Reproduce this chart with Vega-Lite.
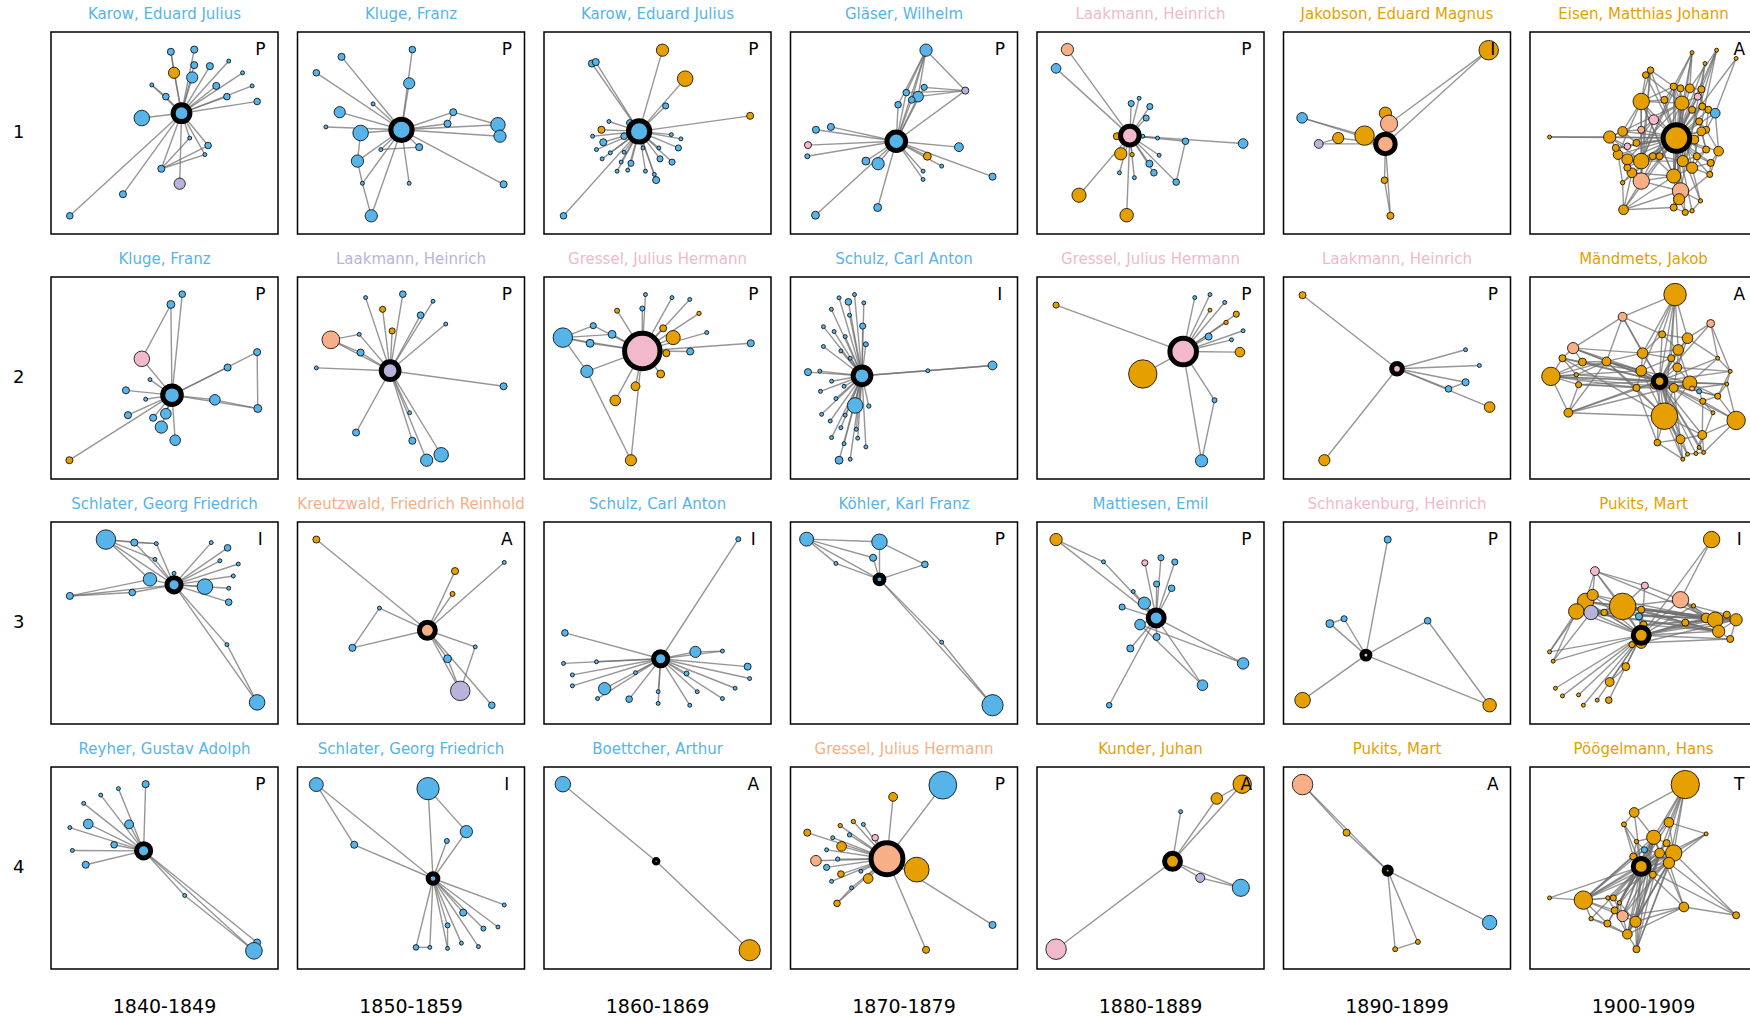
{
"$schema": "https://vega.github.io/schema/vega-lite/v6.json",
"padding": {"left": 13, "top": 6, "right": 0, "bottom": 0},
"background": "white",
"bounds": "flush",
"datasets": {"all": [
{"r":1,"d":"1840-1849","nm":"Karow, Eduard Julius","g":"b","lt":"P","to":["L"]},
{"r":1,"d":"1850-1859","nm":"Kluge, Franz","g":"b","lt":"P","to":["L"]},
{"r":1,"d":"1860-1869","nm":"Karow, Eduard Julius","g":"b","lt":"P","to":["L"]},
{"r":1,"d":"1870-1879","nm":"Gläser, Wilhelm","g":"b","lt":"P","to":["L"]},
{"r":1,"d":"1880-1889","nm":"Laakmann, Heinrich","g":"p","lt":"P","to":["L"]},
{"r":1,"d":"1890-1899","nm":"Jakobson, Eduard Magnus","g":"o","lt":"I","to":["L"]},
{"r":1,"d":"1900-1909","nm":"Eisen, Matthias Johann","g":"o","lt":"A","to":["L"]},
{"r":2,"d":"1840-1849","nm":"Kluge, Franz","g":"b","lt":"P","to":["L"]},
{"r":2,"d":"1850-1859","nm":"Laakmann, Heinrich","g":"l","lt":"P","to":["L"]},
{"r":2,"d":"1860-1869","nm":"Gressel, Julius Hermann","g":"p","lt":"P","to":["L"]},
{"r":2,"d":"1870-1879","nm":"Schulz, Carl Anton","g":"b","lt":"I","to":["L"]},
{"r":2,"d":"1880-1889","nm":"Gressel, Julius Hermann","g":"p","lt":"P","to":["L"]},
{"r":2,"d":"1890-1899","nm":"Laakmann, Heinrich","g":"p","lt":"P","to":["L"]},
{"r":2,"d":"1900-1909","nm":"Mändmets, Jakob","g":"o","lt":"A","to":["L"]},
{"r":3,"d":"1840-1849","nm":"Schlater, Georg Friedrich","g":"b","lt":"I","to":["L"]},
{"r":3,"d":"1850-1859","nm":"Kreutzwald, Friedrich Reinhold","g":"s","lt":"A","to":["L"]},
{"r":3,"d":"1860-1869","nm":"Schulz, Carl Anton","g":"b","lt":"I","to":["L"]},
{"r":3,"d":"1870-1879","nm":"Köhler, Karl Franz","g":"b","lt":"P","to":["L"]},
{"r":3,"d":"1880-1889","nm":"Mattiesen, Emil","g":"b","lt":"P","to":["L"]},
{"r":3,"d":"1890-1899","nm":"Schnakenburg, Heinrich","g":"p","lt":"P","to":["L"]},
{"r":3,"d":"1900-1909","nm":"Pukits, Mart","g":"o","lt":"I","to":["L"]},
{"r":4,"d":"1840-1849","nm":"Reyher, Gustav Adolph","g":"b","lt":"P","to":["L"]},
{"r":4,"d":"1850-1859","nm":"Schlater, Georg Friedrich","g":"b","lt":"I","to":["L"]},
{"r":4,"d":"1860-1869","nm":"Boettcher, Arthur","g":"b","lt":"A","to":["L"]},
{"r":4,"d":"1870-1879","nm":"Gressel, Julius Hermann","g":"s","lt":"P","to":["L"]},
{"r":4,"d":"1880-1889","nm":"Kunder, Juhan","g":"o","lt":"A","to":["L"]},
{"r":4,"d":"1890-1899","nm":"Pukits, Mart","g":"o","lt":"A","to":["L"]},
{"r":4,"d":"1900-1909","nm":"Pöögelmann, Hans","g":"o","lt":"T","to":["L"]},

{"r":1,"d":"1840-1849","k":"11.0","x":57.5,"y":40.2,"w":90,"g":"b","e":1,"to":["11.0"]},
{"r":1,"d":"1840-1849","k":"11.1","x":52.8,"y":9.8,"w":16,"g":"b","to":["11.1","11.0","11.4"]},
{"r":1,"d":"1840-1849","k":"11.2","x":63.1,"y":8.7,"w":16,"g":"b","to":["11.2","11.0"]},
{"r":1,"d":"1840-1849","k":"11.3","x":63.1,"y":16.4,"w":16,"g":"b","to":["11.3","11.0"]},
{"r":1,"d":"1840-1849","k":"11.4","x":54.2,"y":20.2,"w":40,"g":"o","to":["11.4","11.0"]},
{"r":1,"d":"1840-1849","k":"11.5","x":62.2,"y":22.5,"w":40,"g":"b","to":["11.5","11.0"]},
{"r":1,"d":"1840-1849","k":"11.6","x":70,"y":16.9,"w":16,"g":"b","to":["11.6","11.0"]},
{"r":1,"d":"1840-1849","k":"11.7","x":78.3,"y":14.4,"w":5,"g":"b","to":["11.7","11.0"]},
{"r":1,"d":"1840-1849","k":"11.8","x":84.4,"y":20.2,"w":5,"g":"b","to":["11.8","11.0"]},
{"r":1,"d":"1840-1849","k":"11.9","x":72.8,"y":26.7,"w":16,"g":"b","to":["11.9","11.0"]},
{"r":1,"d":"1840-1849","k":"11.10","x":88.6,"y":26.7,"w":5,"g":"b","to":["11.10","11.0"]},
{"r":1,"d":"1840-1849","k":"11.11","x":77.5,"y":32,"w":14,"g":"b","to":["11.11","11.0"]},
{"r":1,"d":"1840-1849","k":"11.12","x":90.8,"y":34.4,"w":14,"g":"b","to":["11.12","11.0"]},
{"r":1,"d":"1840-1849","k":"11.13","x":44.4,"y":26.2,"w":5,"g":"b","to":["11.13","11.0","11.14"]},
{"r":1,"d":"1840-1849","k":"11.14","x":50.6,"y":32,"w":14,"g":"b","to":["11.14","11.0"]},
{"r":1,"d":"1840-1849","k":"11.15","x":40,"y":42.6,"w":77,"g":"b","to":["11.15","11.0"]},
{"r":1,"d":"1840-1849","k":"11.16","x":61.1,"y":52.5,"w":5,"g":"b","to":["11.16","11.0"]},
{"r":1,"d":"1840-1849","k":"11.17","x":69.2,"y":56.2,"w":14,"g":"b","to":["11.17","11.0"]},
{"r":1,"d":"1840-1849","k":"11.18","x":67.8,"y":60.7,"w":5,"g":"b","to":["11.18","11.0"]},
{"r":1,"d":"1840-1849","k":"11.19","x":48.6,"y":67.7,"w":16,"g":"b","to":["11.19","11.0","11.16","11.17","11.18"]},
{"r":1,"d":"1840-1849","k":"11.20","x":56.7,"y":75.1,"w":40,"g":"l","to":["11.20","11.0"]},
{"r":1,"d":"1840-1849","k":"11.21","x":31.7,"y":80.3,"w":16,"g":"b","to":["11.21","11.0"]},
{"r":1,"d":"1840-1849","k":"11.22","x":8.3,"y":91,"w":14,"g":"b","to":["11.22","11.0"]},

{"r":1,"d":"1850-1859","k":"12.0","x":45.8,"y":48.4,"w":144,"g":"b","e":1,"to":["12.0"]},
{"r":1,"d":"1850-1859","k":"12.1","x":19.4,"y":12.3,"w":16,"g":"b","to":["12.1","12.0"]},
{"r":1,"d":"1850-1859","k":"12.2","x":50.6,"y":8.7,"w":14,"g":"b","to":["12.2","12.0"]},
{"r":1,"d":"1850-1859","k":"12.3","x":8.3,"y":20.2,"w":14,"g":"b","to":["12.3","12.0"]},
{"r":1,"d":"1850-1859","k":"12.4","x":49.2,"y":25.4,"w":40,"g":"b","to":["12.4","12.0"]},
{"r":1,"d":"1850-1859","k":"12.5","x":33.3,"y":35.6,"w":5,"g":"b","to":["12.5","12.0"]},
{"r":1,"d":"1850-1859","k":"12.6","x":18.6,"y":39.7,"w":40,"g":"b","to":["12.6","12.0"]},
{"r":1,"d":"1850-1859","k":"12.7","x":12.5,"y":47,"w":5,"g":"b","to":["12.7","12.0"]},
{"r":1,"d":"1850-1859","k":"12.8","x":27.8,"y":50,"w":77,"g":"b","to":["12.8","12.0"]},
{"r":1,"d":"1850-1859","k":"12.9","x":68.6,"y":39.7,"w":16,"g":"b","to":["12.9","12.0"]},
{"r":1,"d":"1850-1859","k":"12.10","x":66.1,"y":45.4,"w":16,"g":"b","to":["12.10","12.0","12.9"]},
{"r":1,"d":"1850-1859","k":"12.11","x":88.3,"y":45.9,"w":67,"g":"b","to":["12.11","12.0","12.9"]},
{"r":1,"d":"1850-1859","k":"12.12","x":89.2,"y":51.6,"w":48,"g":"b","to":["12.12","12.0"]},
{"r":1,"d":"1850-1859","k":"12.13","x":53.6,"y":57,"w":16,"g":"b","to":["12.13","12.0"]},
{"r":1,"d":"1850-1859","k":"12.14","x":36.7,"y":58.2,"w":5,"g":"b","to":["12.14","12.0","12.13"]},
{"r":1,"d":"1850-1859","k":"12.15","x":26.4,"y":63.9,"w":48,"g":"b","to":["12.15","12.0","12.8"]},
{"r":1,"d":"1850-1859","k":"12.16","x":28.6,"y":74.9,"w":5,"g":"b","to":["12.16","12.0","12.15"]},
{"r":1,"d":"1850-1859","k":"12.17","x":49.2,"y":74.9,"w":5,"g":"b","to":["12.17","12.0"]},
{"r":1,"d":"1850-1859","k":"12.18","x":90.8,"y":75.4,"w":16,"g":"b","to":["12.18","12.0"]},
{"r":1,"d":"1850-1859","k":"12.19","x":32.5,"y":91,"w":48,"g":"b","to":["12.19","12.0","12.16"]},

{"r":1,"d":"1860-1869","k":"13.0","x":41.9,"y":49.2,"w":144,"g":"b","e":1,"to":["13.0"]},
{"r":1,"d":"1860-1869","k":"13.1","x":52.2,"y":9,"w":48,"g":"o","to":["13.1","13.0"]},
{"r":1,"d":"1860-1869","k":"13.2","x":21.1,"y":15.6,"w":16,"g":"b","to":["13.2","13.0"]},
{"r":1,"d":"1860-1869","k":"13.3","x":22.8,"y":14.9,"w":16,"g":"b","to":["13.3","13.0"]},
{"r":1,"d":"1860-1869","k":"13.4","x":62.2,"y":23.1,"w":77,"g":"o","to":["13.4","13.0"]},
{"r":1,"d":"1860-1869","k":"13.5","x":90.8,"y":41.5,"w":16,"g":"o","to":["13.5","13.0"]},
{"r":1,"d":"1860-1869","k":"13.6","x":53.6,"y":36.6,"w":12,"g":"b","to":["13.6","13.0"]},
{"r":1,"d":"1860-1869","k":"13.7","x":28.6,"y":44.3,"w":5,"g":"b","to":["13.7","13.0"]},
{"r":1,"d":"1860-1869","k":"13.8","x":25.3,"y":48.4,"w":16,"g":"o","to":["13.8","13.0"]},
{"r":1,"d":"1860-1869","k":"13.9","x":37.8,"y":45,"w":14,"g":"b","to":["13.9","13.0"]},
{"r":1,"d":"1860-1869","k":"13.10","x":21.4,"y":51.6,"w":5,"g":"b","to":["13.10","13.0"]},
{"r":1,"d":"1860-1869","k":"13.11","x":26.1,"y":54.6,"w":16,"g":"b","to":["13.11","13.0"]},
{"r":1,"d":"1860-1869","k":"13.12","x":35.3,"y":51.6,"w":14,"g":"b","to":["13.12","13.0"]},
{"r":1,"d":"1860-1869","k":"13.13","x":56.1,"y":50.8,"w":5,"g":"b","to":["13.13","13.0"]},
{"r":1,"d":"1860-1869","k":"13.14","x":60.3,"y":52.9,"w":5,"g":"b","to":["13.14","13.0"]},
{"r":1,"d":"1860-1869","k":"13.15","x":23.1,"y":58.2,"w":5,"g":"b","to":["13.15","13.0"]},
{"r":1,"d":"1860-1869","k":"13.16","x":29.2,"y":59.8,"w":5,"g":"b","to":["13.16","13.0"]},
{"r":1,"d":"1860-1869","k":"13.17","x":35.3,"y":59.5,"w":5,"g":"b","to":["13.17","13.0"]},
{"r":1,"d":"1860-1869","k":"13.18","x":43.6,"y":57.4,"w":5,"g":"b","to":["13.18","13.0"]},
{"r":1,"d":"1860-1869","k":"13.19","x":50.6,"y":57.4,"w":5,"g":"b","to":["13.19","13.0"]},
{"r":1,"d":"1860-1869","k":"13.20","x":59.2,"y":57.4,"w":12,"g":"b","to":["13.20","13.0"]},
{"r":1,"d":"1860-1869","k":"13.21","x":25.6,"y":62.8,"w":5,"g":"b","to":["13.21","13.0"]},
{"r":1,"d":"1860-1869","k":"13.22","x":34,"y":64.4,"w":5,"g":"b","to":["13.22","13.0"]},
{"r":1,"d":"1860-1869","k":"13.23","x":51.1,"y":62.8,"w":12,"g":"b","to":["13.23","13.0"]},
{"r":1,"d":"1860-1869","k":"13.24","x":56.4,"y":64.4,"w":12,"g":"b","to":["13.24","13.0"]},
{"r":1,"d":"1860-1869","k":"13.25","x":38.3,"y":65,"w":12,"g":"b","to":["13.25","13.0"]},
{"r":1,"d":"1860-1869","k":"13.26","x":32.2,"y":68.9,"w":5,"g":"b","to":["13.26","13.0"]},
{"r":1,"d":"1860-1869","k":"13.27","x":36.9,"y":68.4,"w":5,"g":"b","to":["13.27","13.0"]},
{"r":1,"d":"1860-1869","k":"13.28","x":44.7,"y":68.9,"w":5,"g":"b","to":["13.28","13.0"]},
{"r":1,"d":"1860-1869","k":"13.29","x":48.6,"y":70.5,"w":5,"g":"b","to":["13.29","13.0"]},
{"r":1,"d":"1860-1869","k":"13.30","x":49.4,"y":73.3,"w":16,"g":"b","to":["13.30","13.0"]},
{"r":1,"d":"1860-1869","k":"13.31","x":8.6,"y":91,"w":14,"g":"b","to":["13.31","13.0"]},

{"r":1,"d":"1870-1879","k":"14.0","x":46.6,"y":54.1,"w":110,"g":"b","e":1,"to":["14.0"]},
{"r":1,"d":"1870-1879","k":"14.1","x":59.7,"y":9,"w":48,"g":"b","to":["14.1","14.0"]},
{"r":1,"d":"1870-1879","k":"14.2","x":77,"y":29,"w":16,"g":"l","to":["14.2","14.0","14.1"]},
{"r":1,"d":"1870-1879","k":"14.3","x":51,"y":30,"w":14,"g":"b","to":["14.3","14.0","14.1","14.2"]},
{"r":1,"d":"1870-1879","k":"14.4","x":56.2,"y":32,"w":36,"g":"b","to":["14.4","14.0","14.1","14.2"]},
{"r":1,"d":"1870-1879","k":"14.5","x":58.9,"y":27.4,"w":12,"g":"b","to":["14.5","14.0","14.2"]},
{"r":1,"d":"1870-1879","k":"14.6","x":53.4,"y":33.6,"w":14,"g":"b","to":["14.6","14.0","14.1"]},
{"r":1,"d":"1870-1879","k":"14.7","x":47.4,"y":36,"w":14,"g":"b","to":["14.7","14.0","14.1"]},
{"r":1,"d":"1870-1879","k":"14.8","x":11.2,"y":48.4,"w":16,"g":"b","to":["14.8","14.0"]},
{"r":1,"d":"1870-1879","k":"14.9","x":17.8,"y":47,"w":16,"g":"b","to":["14.9","14.0"]},
{"r":1,"d":"1870-1879","k":"14.10","x":7.7,"y":56,"w":16,"g":"p","to":["14.10","14.0"]},
{"r":1,"d":"1870-1879","k":"14.11","x":7.4,"y":61.5,"w":8,"g":"b","to":["14.11","14.0"]},
{"r":1,"d":"1870-1879","k":"14.12","x":74.2,"y":57,"w":25,"g":"b","to":["14.12","14.0"]},
{"r":1,"d":"1870-1879","k":"14.13","x":60.3,"y":61.5,"w":20,"g":"o","to":["14.13","14.0"]},
{"r":1,"d":"1870-1879","k":"14.14","x":33.2,"y":63.9,"w":20,"g":"b","to":["14.14","14.0"]},
{"r":1,"d":"1870-1879","k":"14.15","x":38.6,"y":65.2,"w":48,"g":"b","to":["14.15","14.0"]},
{"r":1,"d":"1870-1879","k":"14.16","x":58.4,"y":68.9,"w":5,"g":"b","to":["14.16","14.0"]},
{"r":1,"d":"1870-1879","k":"14.17","x":66.6,"y":66.4,"w":5,"g":"b","to":["14.17","14.0"]},
{"r":1,"d":"1870-1879","k":"14.18","x":58.4,"y":73,"w":5,"g":"b","to":["14.18","14.0"]},
{"r":1,"d":"1870-1879","k":"14.19","x":89,"y":71.6,"w":16,"g":"b","to":["14.19","14.0"]},
{"r":1,"d":"1870-1879","k":"14.20","x":38.4,"y":86.9,"w":20,"g":"b","to":["14.20","14.0"]},
{"r":1,"d":"1870-1879","k":"14.21","x":11,"y":90.7,"w":20,"g":"b","to":["14.21","14.0"]},

{"r":1,"d":"1880-1889","k":"15.0","x":40.9,"y":51.3,"w":110,"g":"p","e":1,"to":["15.0"]},
{"r":1,"d":"1880-1889","k":"15.1","x":13.4,"y":8.7,"w":48,"g":"s","to":["15.1","15.0"]},
{"r":1,"d":"1880-1889","k":"15.2","x":8.4,"y":18,"w":30,"g":"b","to":["15.2","15.0"]},
{"r":1,"d":"1880-1889","k":"15.3","x":41.5,"y":35.4,"w":12,"g":"b","to":["15.3","15.0"]},
{"r":1,"d":"1880-1889","k":"15.4","x":45,"y":32.8,"w":5,"g":"b","to":["15.4","15.0"]},
{"r":1,"d":"1880-1889","k":"15.5","x":49.7,"y":36.9,"w":12,"g":"b","to":["15.5","15.0"]},
{"r":1,"d":"1880-1889","k":"15.6","x":48.1,"y":42.6,"w":12,"g":"b","to":["15.6","15.0"]},
{"r":1,"d":"1880-1889","k":"15.7","x":46.6,"y":51.6,"w":5,"g":"b","to":["15.7","15.0"]},
{"r":1,"d":"1880-1889","k":"15.8","x":35.2,"y":51.6,"w":16,"g":"o","to":["15.8","15.0"]},
{"r":1,"d":"1880-1889","k":"15.9","x":53.1,"y":52.5,"w":5,"g":"b","to":["15.9","15.0"]},
{"r":1,"d":"1880-1889","k":"15.10","x":65.4,"y":54.1,"w":14,"g":"b","to":["15.10","15.0"]},
{"r":1,"d":"1880-1889","k":"15.11","x":90.8,"y":55.2,"w":30,"g":"b","to":["15.11","15.0"]},
{"r":1,"d":"1880-1889","k":"15.12","x":36.9,"y":60.3,"w":48,"g":"o","to":["15.12","15.0"]},
{"r":1,"d":"1880-1889","k":"15.13","x":41.9,"y":60.7,"w":6,"g":"o","to":["15.13","15.0"]},
{"r":1,"d":"1880-1889","k":"15.14","x":53.8,"y":61,"w":5,"g":"b","to":["15.14","15.0"]},
{"r":1,"d":"1880-1889","k":"15.15","x":49.5,"y":65.2,"w":16,"g":"b","to":["15.15","15.0"]},
{"r":1,"d":"1880-1889","k":"15.16","x":51.5,"y":69.7,"w":14,"g":"b","to":["15.16","15.0"]},
{"r":1,"d":"1880-1889","k":"15.17","x":36.3,"y":69.7,"w":5,"g":"b","to":["15.17","15.0"]},
{"r":1,"d":"1880-1889","k":"15.18","x":42.9,"y":72.1,"w":5,"g":"b","to":["15.18","15.0"]},
{"r":1,"d":"1880-1889","k":"15.19","x":61.3,"y":74.3,"w":14,"g":"b","to":["15.19","15.0","15.10"]},
{"r":1,"d":"1880-1889","k":"15.20","x":18.5,"y":80.8,"w":64,"g":"o","to":["15.20","15.0"]},
{"r":1,"d":"1880-1889","k":"15.21","x":39.5,"y":90.7,"w":58,"g":"o","to":["15.21","15.0"]},

{"r":1,"d":"1890-1899","k":"16.0","x":44.9,"y":55.4,"w":121,"g":"s","e":1,"to":["16.0"]},
{"r":1,"d":"1890-1899","k":"16.1","x":90.4,"y":9,"w":121,"g":"o","to":["16.1","16.0","16.6"]},
{"r":1,"d":"1890-1899","k":"16.2","x":8.2,"y":42.5,"w":36,"g":"b","to":["16.2","16.0","16.5"]},
{"r":1,"d":"1890-1899","k":"16.3","x":15.5,"y":55.4,"w":25,"g":"l","to":["16.3","16.0","16.4"]},
{"r":1,"d":"1890-1899","k":"16.4","x":24.1,"y":52.5,"w":40,"g":"o","to":["16.4","16.0"]},
{"r":1,"d":"1890-1899","k":"16.5","x":35.7,"y":51.3,"w":121,"g":"o","to":["16.5","16.0"]},
{"r":1,"d":"1890-1899","k":"16.7","x":44.9,"y":40.2,"w":48,"g":"o","to":["16.7","16.0"]},
{"r":1,"d":"1890-1899","k":"16.6","x":46.5,"y":45.4,"w":94,"g":"s","to":["16.6","16.0"]},
{"r":1,"d":"1890-1899","k":"16.8","x":44.5,"y":73.4,"w":14,"g":"o","to":["16.8","16.0"]},
{"r":1,"d":"1890-1899","k":"16.9","x":47.1,"y":91,"w":16,"g":"o","to":["16.9","16.0","16.8"]},

{"r":1,"d":"1900-1909","k":"17.0","x":64.5,"y":52.5,"w":225,"g":"o","e":1,"to":["17.0"]},
{"r":1,"d":"1900-1909","k":"17.1","x":8.6,"y":52,"w":5,"g":"o","to":["17.1","17.0","17.2"]},
{"r":1,"d":"1900-1909","k":"17.2","x":35.1,"y":52,"w":48,"g":"o","to":["17.2","17.0","17.3","17.43","17.47","17.18","17.40"]},
{"r":1,"d":"1900-1909","k":"17.3","x":40.8,"y":49.2,"w":30,"g":"o","to":["17.3","17.0","17.4","17.52"]},
{"r":1,"d":"1900-1909","k":"17.4","x":49,"y":34.4,"w":86,"g":"o","to":["17.4","17.0","17.5","17.6","17.7","17.13","17.18","17.40","17.32","17.33","17.39"]},
{"r":1,"d":"1900-1909","k":"17.5","x":53.1,"y":18.9,"w":14,"g":"o","to":["17.5","17.0","17.6","17.13","17.40","17.39"]},
{"r":1,"d":"1900-1909","k":"17.6","x":51,"y":21.3,"w":14,"g":"o","to":["17.6","17.0","17.18"]},
{"r":1,"d":"1900-1909","k":"17.7","x":54.5,"y":43.4,"w":30,"g":"p","to":["17.7","17.0","17.8","17.18","17.40"]},
{"r":1,"d":"1900-1909","k":"17.8","x":49,"y":48.4,"w":16,"g":"s","to":["17.8","17.0","17.3"]},
{"r":1,"d":"1900-1909","k":"17.9","x":71.4,"y":10.2,"w":5,"g":"o","to":["17.9","17.0","17.13","17.15","17.32","17.40"]},
{"r":1,"d":"1900-1909","k":"17.10","x":82.2,"y":9,"w":5,"g":"o","to":["17.10","17.0","17.15","17.16","17.30","17.31"]},
{"r":1,"d":"1900-1909","k":"17.11","x":90.8,"y":13.1,"w":5,"g":"o","to":["17.11","17.0","17.22"]},
{"r":1,"d":"1900-1909","k":"17.12","x":77.1,"y":15.6,"w":5,"g":"o","to":["17.12","17.0","17.16","17.33"]},
{"r":1,"d":"1900-1909","k":"17.13","x":63.3,"y":27,"w":16,"g":"o","to":["17.13","17.0","17.14","17.18","17.40","17.30","17.32"]},
{"r":1,"d":"1900-1909","k":"17.14","x":66.3,"y":27.9,"w":16,"g":"o","to":["17.14","17.0","17.15","17.18"]},
{"r":1,"d":"1900-1909","k":"17.15","x":70.4,"y":27.9,"w":25,"g":"o","to":["17.15","17.0","17.16","17.17"]},
{"r":1,"d":"1900-1909","k":"17.16","x":75.5,"y":28.4,"w":16,"g":"o","to":["17.16","17.0","17.17","17.20"]},
{"r":1,"d":"1900-1909","k":"17.17","x":73.9,"y":32,"w":16,"g":"p","to":["17.17","17.0","17.18","17.21"]},
{"r":1,"d":"1900-1909","k":"17.18","x":66.9,"y":35.2,"w":64,"g":"o","to":["17.18","17.0","17.19","17.31","17.32"]},
{"r":1,"d":"1900-1909","k":"17.19","x":71.4,"y":38.5,"w":16,"g":"o","to":["17.19","17.0","17.20","17.23"]},
{"r":1,"d":"1900-1909","k":"17.20","x":75.9,"y":36.9,"w":16,"g":"o","to":["17.20","17.0","17.21","17.22"]},
{"r":1,"d":"1900-1909","k":"17.21","x":78.6,"y":38.5,"w":16,"g":"o","to":["17.21","17.0","17.22","17.24"]},
{"r":1,"d":"1900-1909","k":"17.22","x":81.6,"y":40.2,"w":30,"g":"b","to":["17.22","17.0","17.24","17.25"]},
{"r":1,"d":"1900-1909","k":"17.23","x":74.5,"y":44.3,"w":16,"g":"o","to":["17.23","17.0","17.24","17.26"]},
{"r":1,"d":"1900-1909","k":"17.24","x":77.6,"y":48.4,"w":16,"g":"o","to":["17.24","17.0","17.25","17.53"]},
{"r":1,"d":"1900-1909","k":"17.25","x":83.1,"y":59,"w":30,"g":"o","to":["17.25","17.0","17.28","17.29"]},
{"r":1,"d":"1900-1909","k":"17.26","x":77.6,"y":58.2,"w":16,"g":"o","to":["17.26","17.0","17.27","17.30"]},
{"r":1,"d":"1900-1909","k":"17.27","x":73.5,"y":61.5,"w":16,"g":"o","to":["17.27","17.0","17.28","17.31"]},
{"r":1,"d":"1900-1909","k":"17.28","x":79.6,"y":64.8,"w":16,"g":"o","to":["17.28","17.0","17.29","17.30"]},
{"r":1,"d":"1900-1909","k":"17.29","x":79.2,"y":70.5,"w":12,"g":"o","to":["17.29","17.0","17.30","17.34"]},
{"r":1,"d":"1900-1909","k":"17.30","x":71.4,"y":67.2,"w":40,"g":"o","to":["17.30","17.0","17.31","17.32","17.38"]},
{"r":1,"d":"1900-1909","k":"17.31","x":67.3,"y":63.9,"w":40,"g":"o","to":["17.31","17.0","17.32","17.40"]},
{"r":1,"d":"1900-1909","k":"17.32","x":63.3,"y":71.3,"w":64,"g":"o","to":["17.32","17.0","17.33","17.39","17.44"]},
{"r":1,"d":"1900-1909","k":"17.33","x":66.3,"y":78.7,"w":86,"g":"s","to":["17.33","17.0","17.34","17.35","17.39"]},
{"r":1,"d":"1900-1909","k":"17.34","x":65.7,"y":82.8,"w":40,"g":"o","to":["17.34","17.0","17.35","17.36"]},
{"r":1,"d":"1900-1909","k":"17.35","x":63.3,"y":86.9,"w":16,"g":"o","to":["17.35","17.0","17.36","17.46"]},
{"r":1,"d":"1900-1909","k":"17.36","x":68.4,"y":89.3,"w":12,"g":"o","to":["17.36","17.0","17.37"]},
{"r":1,"d":"1900-1909","k":"17.37","x":71.4,"y":88.5,"w":6,"g":"o","to":["17.37","17.0","17.38"]},
{"r":1,"d":"1900-1909","k":"17.38","x":75.1,"y":83.6,"w":6,"g":"o","to":["17.38","17.0","17.33"]},
{"r":1,"d":"1900-1909","k":"17.39","x":49,"y":73.8,"w":86,"g":"s","to":["17.39","17.0","17.40","17.44","17.46","17.18"]},
{"r":1,"d":"1900-1909","k":"17.40","x":49,"y":63.9,"w":77,"g":"o","to":["17.40","17.0","17.41","17.48"]},
{"r":1,"d":"1900-1909","k":"17.41","x":42.9,"y":63.1,"w":40,"g":"o","to":["17.41","17.0","17.42","17.44","17.51","17.18"]},
{"r":1,"d":"1900-1909","k":"17.42","x":38.8,"y":60.7,"w":30,"g":"o","to":["17.42","17.0","17.43","17.45","17.4"]},
{"r":1,"d":"1900-1909","k":"17.43","x":37.8,"y":57.4,"w":16,"g":"o","to":["17.43","17.0","17.47"]},
{"r":1,"d":"1900-1909","k":"17.44","x":44.9,"y":69.7,"w":30,"g":"o","to":["17.44","17.0","17.45","17.51"]},
{"r":1,"d":"1900-1909","k":"17.45","x":40.8,"y":74.6,"w":6,"g":"o","to":["17.45","17.0","17.46"]},
{"r":1,"d":"1900-1909","k":"17.46","x":41.2,"y":88,"w":30,"g":"o","to":["17.46","17.0","17.44","17.32","17.33"]},
{"r":1,"d":"1900-1909","k":"17.47","x":42.9,"y":56.6,"w":14,"g":"p","to":["17.47","17.0","17.52"]},
{"r":1,"d":"1900-1909","k":"17.48","x":54.1,"y":61.5,"w":16,"g":"o","to":["17.48","17.0","17.49","17.32"]},
{"r":1,"d":"1900-1909","k":"17.49","x":57.1,"y":61.5,"w":16,"g":"o","to":["17.49","17.0","17.31"]},
{"r":1,"d":"1900-1909","k":"17.50","x":59.2,"y":33.6,"w":16,"g":"o","to":["17.50","17.0","17.4","17.13"]},
{"r":1,"d":"1900-1909","k":"17.51","x":42.9,"y":67.2,"w":16,"g":"o","to":["17.51","17.0","17.39"]},
{"r":1,"d":"1900-1909","k":"17.52","x":46.9,"y":54.9,"w":16,"g":"o","to":["17.52","17.0","17.7"]},
{"r":1,"d":"1900-1909","k":"17.53","x":75.5,"y":49.2,"w":25,"g":"o","to":["17.53","17.0","17.54","17.26"]},
{"r":1,"d":"1900-1909","k":"17.54","x":72.4,"y":53.3,"w":25,"g":"o","to":["17.54","17.0","17.31","17.27"]},

{"r":2,"d":"1840-1849","k":"21.0","x":53.3,"y":58.5,"w":110,"g":"b","e":1,"to":["21.0"]},
{"r":2,"d":"1840-1849","k":"21.1","x":52.8,"y":13.6,"w":20,"g":"b","to":["21.1","21.0","21.3"]},
{"r":2,"d":"1840-1849","k":"21.2","x":57.8,"y":8.5,"w":14,"g":"b","to":["21.2","21.0"]},
{"r":2,"d":"1840-1849","k":"21.3","x":40,"y":40.5,"w":77,"g":"p","to":["21.3","21.0"]},
{"r":2,"d":"1840-1849","k":"21.4","x":90.8,"y":37.2,"w":16,"g":"b","to":["21.4","21.0","21.6"]},
{"r":2,"d":"1840-1849","k":"21.5","x":77.8,"y":44.8,"w":16,"g":"b","to":["21.5","21.0"]},
{"r":2,"d":"1840-1849","k":"21.6","x":91.1,"y":65.1,"w":20,"g":"b","to":["21.6","21.0"]},
{"r":2,"d":"1840-1849","k":"21.7","x":72.2,"y":60.8,"w":36,"g":"b","to":["21.7","21.0","21.6"]},
{"r":2,"d":"1840-1849","k":"21.8","x":43.6,"y":50.8,"w":5,"g":"b","to":["21.8","21.0"]},
{"r":2,"d":"1840-1849","k":"21.9","x":33,"y":56.1,"w":16,"g":"b","to":["21.9","21.0"]},
{"r":2,"d":"1840-1849","k":"21.10","x":41.7,"y":60.5,"w":5,"g":"b","to":["21.10","21.0"]},
{"r":2,"d":"1840-1849","k":"21.11","x":33.9,"y":68.4,"w":16,"g":"b","to":["21.11","21.0"]},
{"r":2,"d":"1840-1849","k":"21.12","x":45,"y":69.7,"w":16,"g":"b","to":["21.12","21.0"]},
{"r":2,"d":"1840-1849","k":"21.13","x":50.6,"y":67.7,"w":36,"g":"b","to":["21.13","21.0"]},
{"r":2,"d":"1840-1849","k":"21.14","x":48.6,"y":74.3,"w":48,"g":"b","to":["21.14","21.0"]},
{"r":2,"d":"1840-1849","k":"21.15","x":54.7,"y":80.8,"w":36,"g":"b","to":["21.15","21.0"]},
{"r":2,"d":"1840-1849","k":"21.16","x":8.1,"y":90.7,"w":16,"g":"o","to":["21.16","21.0"]},

{"r":2,"d":"1850-1859","k":"22.0","x":40.8,"y":46.4,"w":100,"g":"l","e":1,"to":["22.0"]},
{"r":2,"d":"1850-1859","k":"22.1","x":14.7,"y":31.1,"w":100,"g":"s","to":["22.1","22.0","22.2"]},
{"r":2,"d":"1850-1859","k":"22.2","x":27.2,"y":28.4,"w":5,"g":"b","to":["22.2","22.0"]},
{"r":2,"d":"1850-1859","k":"22.3","x":27.8,"y":37.4,"w":16,"g":"b","to":["22.3","22.0","22.1"]},
{"r":2,"d":"1850-1859","k":"22.4","x":30,"y":10.2,"w":5,"g":"b","to":["22.4","22.0"]},
{"r":2,"d":"1850-1859","k":"22.5","x":46.4,"y":8.5,"w":14,"g":"b","to":["22.5","22.0"]},
{"r":2,"d":"1850-1859","k":"22.6","x":37.5,"y":16,"w":12,"g":"o","to":["22.6","22.0"]},
{"r":2,"d":"1850-1859","k":"22.7","x":41.7,"y":26.7,"w":12,"g":"o","to":["22.7","22.0"]},
{"r":2,"d":"1850-1859","k":"22.8","x":59.7,"y":12,"w":5,"g":"b","to":["22.8","22.0"]},
{"r":2,"d":"1850-1859","k":"22.9","x":54.2,"y":18.9,"w":14,"g":"b","to":["22.9","22.0"]},
{"r":2,"d":"1850-1859","k":"22.10","x":65.3,"y":23.3,"w":5,"g":"b","to":["22.10","22.0"]},
{"r":2,"d":"1850-1859","k":"22.11","x":8.3,"y":45,"w":5,"g":"b","to":["22.11","22.0"]},
{"r":2,"d":"1850-1859","k":"22.12","x":90.8,"y":54.1,"w":16,"g":"b","to":["22.12","22.0"]},
{"r":2,"d":"1850-1859","k":"22.13","x":25.8,"y":77,"w":16,"g":"b","to":["22.13","22.0"]},
{"r":2,"d":"1850-1859","k":"22.14","x":50.6,"y":81.1,"w":16,"g":"b","to":["22.14","22.0"]},
{"r":2,"d":"1850-1859","k":"22.15","x":56.9,"y":90.7,"w":48,"g":"b","to":["22.15","22.0"]},
{"r":2,"d":"1850-1859","k":"22.16","x":63.3,"y":88,"w":67,"g":"b","to":["22.16","22.0"]},
{"r":2,"d":"1850-1859","k":"22.17","x":49.4,"y":67.2,"w":5,"g":"b","to":["22.17","22.0"]},

{"r":2,"d":"1860-1869","k":"23.0","x":43.3,"y":36.6,"w":400,"g":"p","e":1,"to":["23.0"]},
{"r":2,"d":"1860-1869","k":"23.1","x":8.3,"y":30,"w":121,"g":"b","to":["23.1","23.0","23.2","23.3","23.4"]},
{"r":2,"d":"1860-1869","k":"23.2","x":21.7,"y":24.1,"w":12,"g":"b","to":["23.2","23.0"]},
{"r":2,"d":"1860-1869","k":"23.3","x":30,"y":28.4,"w":20,"g":"b","to":["23.3","23.0"]},
{"r":2,"d":"1860-1869","k":"23.4","x":20.3,"y":32.8,"w":20,"g":"b","to":["23.4","23.0"]},
{"r":2,"d":"1860-1869","k":"23.5","x":18.9,"y":46.7,"w":48,"g":"b","to":["23.5","23.0","23.1"]},
{"r":2,"d":"1860-1869","k":"23.6","x":32.2,"y":16.7,"w":8,"g":"o","to":["23.6","23.0"]},
{"r":2,"d":"1860-1869","k":"23.7","x":44.7,"y":8.7,"w":5,"g":"b","to":["23.7","23.0"]},
{"r":2,"d":"1860-1869","k":"23.8","x":43.3,"y":15.6,"w":8,"g":"b","to":["23.8","23.0"]},
{"r":2,"d":"1860-1869","k":"23.9","x":56.4,"y":10.2,"w":5,"g":"b","to":["23.9","23.0"]},
{"r":2,"d":"1860-1869","k":"23.10","x":64.2,"y":11.1,"w":5,"g":"b","to":["23.10","23.0"]},
{"r":2,"d":"1860-1869","k":"23.11","x":68.3,"y":18,"w":6,"g":"o","to":["23.11","23.0"]},
{"r":2,"d":"1860-1869","k":"23.12","x":52.5,"y":25.4,"w":16,"g":"o","to":["23.12","23.0"]},
{"r":2,"d":"1860-1869","k":"23.13","x":56.9,"y":30,"w":64,"g":"o","to":["23.13","23.0"]},
{"r":2,"d":"1860-1869","k":"23.14","x":71.7,"y":27.5,"w":5,"g":"b","to":["23.14","23.0"]},
{"r":2,"d":"1860-1869","k":"23.15","x":53.9,"y":37.7,"w":16,"g":"o","to":["23.15","23.0"]},
{"r":2,"d":"1860-1869","k":"23.16","x":64.4,"y":36.9,"w":16,"g":"b","to":["23.16","23.0"]},
{"r":2,"d":"1860-1869","k":"23.17","x":91.1,"y":32.8,"w":16,"g":"b","to":["23.17","23.0"]},
{"r":2,"d":"1860-1869","k":"23.18","x":51.4,"y":48,"w":20,"g":"o","to":["23.18","23.0"]},
{"r":2,"d":"1860-1869","k":"23.19","x":40.3,"y":54.1,"w":25,"g":"o","to":["23.19","23.0"]},
{"r":2,"d":"1860-1869","k":"23.20","x":31.4,"y":61.1,"w":36,"g":"o","to":["23.20","23.0"]},
{"r":2,"d":"1860-1869","k":"23.21","x":38.3,"y":90.7,"w":40,"g":"o","to":["23.21","23.0","23.5"]},

{"r":2,"d":"1870-1879","k":"24.0","x":31.5,"y":48.9,"w":100,"g":"b","e":1,"to":["24.0"]},
{"r":2,"d":"1870-1879","k":"24.1","x":89,"y":43.8,"w":25,"g":"b","to":["24.1","24.0","24.2"]},
{"r":2,"d":"1870-1879","k":"24.2","x":60.5,"y":46.4,"w":5,"g":"b","to":["24.2","24.0"]},
{"r":2,"d":"1870-1879","k":"24.3","x":7.7,"y":47.1,"w":16,"g":"b","to":["24.3","24.0"]},
{"r":2,"d":"1870-1879","k":"24.4","x":12.9,"y":46.6,"w":5,"g":"b","to":["24.4","24.0"]},
{"r":2,"d":"1870-1879","k":"24.5","x":21.4,"y":10.3,"w":5,"g":"b","to":["24.5","24.0"]},
{"r":2,"d":"1870-1879","k":"24.6","x":25.5,"y":12.3,"w":14,"g":"b","to":["24.6","24.0"]},
{"r":2,"d":"1870-1879","k":"24.7","x":28.2,"y":8.7,"w":5,"g":"b","to":["24.7","24.0"]},
{"r":2,"d":"1870-1879","k":"24.8","x":32.3,"y":12.8,"w":5,"g":"b","to":["24.8","24.0"]},
{"r":2,"d":"1870-1879","k":"24.9","x":18,"y":16,"w":5,"g":"b","to":["24.9","24.0"]},
{"r":2,"d":"1870-1879","k":"24.10","x":26,"y":18.9,"w":5,"g":"b","to":["24.10","24.0"]},
{"r":2,"d":"1870-1879","k":"24.11","x":31.8,"y":24.3,"w":12,"g":"b","to":["24.11","24.0"]},
{"r":2,"d":"1870-1879","k":"24.12","x":14.5,"y":24.6,"w":5,"g":"b","to":["24.12","24.0"]},
{"r":2,"d":"1870-1879","k":"24.13","x":19.2,"y":27,"w":5,"g":"b","to":["24.13","24.0"]},
{"r":2,"d":"1870-1879","k":"24.14","x":24.1,"y":29.5,"w":5,"g":"b","to":["24.14","24.0"]},
{"r":2,"d":"1870-1879","k":"24.15","x":33.2,"y":33.3,"w":8,"g":"b","to":["24.15","24.0"]},
{"r":2,"d":"1870-1879","k":"24.16","x":14.5,"y":34.4,"w":5,"g":"b","to":["24.16","24.0"]},
{"r":2,"d":"1870-1879","k":"24.17","x":22.2,"y":36.6,"w":5,"g":"b","to":["24.17","24.0"]},
{"r":2,"d":"1870-1879","k":"24.18","x":26.3,"y":40.2,"w":5,"g":"b","to":["24.18","24.0"]},
{"r":2,"d":"1870-1879","k":"24.19","x":18.1,"y":51.6,"w":5,"g":"b","to":["24.19","24.0"]},
{"r":2,"d":"1870-1879","k":"24.20","x":23.6,"y":54.1,"w":5,"g":"b","to":["24.20","24.0"]},
{"r":2,"d":"1870-1879","k":"24.21","x":13.2,"y":56.6,"w":5,"g":"b","to":["24.21","24.0"]},
{"r":2,"d":"1870-1879","k":"24.22","x":20,"y":60.2,"w":5,"g":"b","to":["24.22","24.0"]},
{"r":2,"d":"1870-1879","k":"24.23","x":28.5,"y":63.6,"w":77,"g":"b","to":["24.23","24.0"]},
{"r":2,"d":"1870-1879","k":"24.24","x":34.5,"y":63.9,"w":6,"g":"b","to":["24.24","24.0"]},
{"r":2,"d":"1870-1879","k":"24.25","x":13.7,"y":68,"w":5,"g":"b","to":["24.25","24.0"]},
{"r":2,"d":"1870-1879","k":"24.26","x":17.5,"y":71.3,"w":5,"g":"b","to":["24.26","24.0"]},
{"r":2,"d":"1870-1879","k":"24.27","x":24.1,"y":68.4,"w":5,"g":"b","to":["24.27","24.0"]},
{"r":2,"d":"1870-1879","k":"24.28","x":22.2,"y":74.6,"w":5,"g":"b","to":["24.28","24.0"]},
{"r":2,"d":"1870-1879","k":"24.29","x":29,"y":75.4,"w":5,"g":"b","to":["24.29","24.0"]},
{"r":2,"d":"1870-1879","k":"24.30","x":18.1,"y":79.5,"w":5,"g":"b","to":["24.30","24.0"]},
{"r":2,"d":"1870-1879","k":"24.31","x":23.6,"y":82.5,"w":5,"g":"b","to":["24.31","24.0"]},
{"r":2,"d":"1870-1879","k":"24.32","x":33.2,"y":84.1,"w":5,"g":"b","to":["24.32","24.0"]},
{"r":2,"d":"1870-1879","k":"24.33","x":29.6,"y":79.8,"w":5,"g":"b","to":["24.33","24.0"]},
{"r":2,"d":"1870-1879","k":"24.34","x":21.4,"y":90.7,"w":20,"g":"b","to":["24.34","24.0"]},
{"r":2,"d":"1870-1879","k":"24.35","x":26.3,"y":90.2,"w":5,"g":"b","to":["24.35","24.0"]},

{"r":2,"d":"1880-1889","k":"25.0","x":64.4,"y":36.9,"w":225,"g":"p","e":1,"to":["25.0"]},
{"r":2,"d":"1880-1889","k":"25.1","x":8.4,"y":13.9,"w":12,"g":"o","to":["25.1","25.0"]},
{"r":2,"d":"1880-1889","k":"25.2","x":46.6,"y":48,"w":256,"g":"o","to":["25.2","25.0"]},
{"r":2,"d":"1880-1889","k":"25.3","x":69.5,"y":10.2,"w":5,"g":"b","to":["25.3","25.0"]},
{"r":2,"d":"1880-1889","k":"25.4","x":76.2,"y":8.7,"w":5,"g":"b","to":["25.4","25.0"]},
{"r":2,"d":"1880-1889","k":"25.5","x":82.7,"y":12.6,"w":5,"g":"b","to":["25.5","25.0"]},
{"r":2,"d":"1880-1889","k":"25.6","x":76.2,"y":16.4,"w":5,"g":"o","to":["25.6","25.0"]},
{"r":2,"d":"1880-1889","k":"25.7","x":87.8,"y":18.4,"w":12,"g":"o","to":["25.7","25.0"]},
{"r":2,"d":"1880-1889","k":"25.8","x":83.3,"y":22.5,"w":6,"g":"o","to":["25.8","25.0"]},
{"r":2,"d":"1880-1889","k":"25.9","x":90.8,"y":26.6,"w":5,"g":"b","to":["25.9","25.0"]},
{"r":2,"d":"1880-1889","k":"25.10","x":75.6,"y":29.5,"w":16,"g":"b","to":["25.10","25.0"]},
{"r":2,"d":"1880-1889","k":"25.11","x":85.7,"y":31.1,"w":5,"g":"b","to":["25.11","25.0"]},
{"r":2,"d":"1880-1889","k":"25.12","x":89.4,"y":37.2,"w":30,"g":"o","to":["25.12","25.0"]},
{"r":2,"d":"1880-1889","k":"25.13","x":78.2,"y":61,"w":8,"g":"b","to":["25.13","25.0"]},
{"r":2,"d":"1880-1889","k":"25.14","x":72.5,"y":91,"w":48,"g":"b","to":["25.14","25.0","25.13"]},

{"r":2,"d":"1890-1899","k":"26.0","x":50,"y":45.4,"w":36,"g":"p","e":1,"to":["26.0"]},
{"r":2,"d":"1890-1899","k":"26.1","x":8.4,"y":9,"w":16,"g":"o","to":["26.1","26.0"]},
{"r":2,"d":"1890-1899","k":"26.2","x":80.2,"y":36,"w":5,"g":"b","to":["26.2","26.0"]},
{"r":2,"d":"1890-1899","k":"26.3","x":86.3,"y":43.8,"w":5,"g":"b","to":["26.3","26.0"]},
{"r":2,"d":"1890-1899","k":"26.4","x":80.2,"y":52.1,"w":16,"g":"b","to":["26.4","26.0"]},
{"r":2,"d":"1890-1899","k":"26.5","x":72.7,"y":55.4,"w":14,"g":"b","to":["26.5","26.0","26.4"]},
{"r":2,"d":"1890-1899","k":"26.6","x":90.8,"y":64.4,"w":36,"g":"o","to":["26.6","26.0"]},
{"r":2,"d":"1890-1899","k":"26.7","x":18,"y":90.7,"w":40,"g":"o","to":["26.7","26.0"]},

{"r":2,"d":"1900-1909","k":"27.0","x":57.1,"y":51.6,"w":49,"g":"o","e":1,"to":["27.0"]},
{"r":2,"d":"1900-1909","k":"27.1","x":63.9,"y":8.7,"w":161,"g":"o","to":["27.1","27.0","27.2","27.12","27.13","27.14","27.15","27.16","27.17","27.29"]},
{"r":2,"d":"1900-1909","k":"27.2","x":40.8,"y":19.7,"w":25,"g":"s","to":["27.2","27.0","27.4","27.11","27.12","27.13"]},
{"r":2,"d":"1900-1909","k":"27.3","x":79.6,"y":23,"w":20,"g":"s","to":["27.3","27.0","27.14","27.24","27.25"]},
{"r":2,"d":"1900-1909","k":"27.4","x":19,"y":35.2,"w":40,"g":"s","to":["27.4","27.0","27.5","27.6","27.11","27.12","27.17"]},
{"r":2,"d":"1900-1909","k":"27.5","x":14.3,"y":40.2,"w":16,"g":"o","to":["27.5","27.0","27.6","27.7","27.8","27.29"]},
{"r":2,"d":"1900-1909","k":"27.6","x":23.1,"y":42.1,"w":20,"g":"o","to":["27.6","27.0","27.7","27.11","27.17"]},
{"r":2,"d":"1900-1909","k":"27.7","x":9.2,"y":49.2,"w":108,"g":"o","to":["27.7","27.0","27.8","27.9","27.10","27.11","27.17","27.18","27.20","27.21"]},
{"r":2,"d":"1900-1909","k":"27.8","x":20.4,"y":48.4,"w":6,"g":"o","to":["27.8","27.0","27.9","27.11"]},
{"r":2,"d":"1900-1909","k":"27.9","x":21.4,"y":53.3,"w":12,"g":"o","to":["27.9","27.0","27.10","27.18","27.21"]},
{"r":2,"d":"1900-1909","k":"27.10","x":16.9,"y":67.2,"w":25,"g":"o","to":["27.10","27.0","27.11","27.18","27.29","27.20"]},
{"r":2,"d":"1900-1909","k":"27.11","x":33.7,"y":41.8,"w":25,"g":"o","to":["27.11","27.0","27.12","27.17","27.18","27.20","27.29"]},
{"r":2,"d":"1900-1909","k":"27.12","x":49.6,"y":37.7,"w":36,"g":"o","to":["27.12","27.0","27.13","27.15","27.16","27.17"]},
{"r":2,"d":"1900-1909","k":"27.13","x":58.2,"y":28.4,"w":16,"g":"o","to":["27.13","27.0","27.14","27.15"]},
{"r":2,"d":"1900-1909","k":"27.14","x":69.4,"y":30.3,"w":36,"g":"o","to":["27.14","27.0","27.15","27.19","27.24"]},
{"r":2,"d":"1900-1909","k":"27.15","x":65.3,"y":36.1,"w":36,"g":"o","to":["27.15","27.0","27.16","27.19","27.20"]},
{"r":2,"d":"1900-1909","k":"27.16","x":62.2,"y":40.2,"w":16,"g":"o","to":["27.16","27.0","27.17","27.19"]},
{"r":2,"d":"1900-1909","k":"27.17","x":49,"y":46.4,"w":36,"g":"o","to":["27.17","27.0","27.18","27.21","27.29"]},
{"r":2,"d":"1900-1909","k":"27.18","x":46.9,"y":54.9,"w":16,"g":"o","to":["27.18","27.0","27.21","27.29","27.33"]},
{"r":2,"d":"1900-1909","k":"27.19","x":64.9,"y":44.8,"w":25,"g":"o","to":["27.19","27.0","27.20","27.21","27.25"]},
{"r":2,"d":"1900-1909","k":"27.20","x":70.4,"y":52.5,"w":64,"g":"o","to":["27.20","27.0","27.21","27.22","27.26","27.27","27.29"]},
{"r":2,"d":"1900-1909","k":"27.21","x":63.3,"y":54.9,"w":25,"g":"o","to":["27.21","27.0","27.22","27.29","27.32"]},
{"r":2,"d":"1900-1909","k":"27.22","x":71.4,"y":55.2,"w":8,"g":"s","to":["27.22","27.0","27.23","27.26"]},
{"r":2,"d":"1900-1909","k":"27.23","x":74.5,"y":56.6,"w":8,"g":"b","to":["27.23","27.0","27.27","27.28"]},
{"r":2,"d":"1900-1909","k":"27.24","x":82.7,"y":40.2,"w":5,"g":"o","to":["27.24","27.0","27.25","27.20"]},
{"r":2,"d":"1900-1909","k":"27.25","x":88.2,"y":46.7,"w":5,"g":"o","to":["27.25","27.0","27.26","27.27"]},
{"r":2,"d":"1900-1909","k":"27.26","x":86.7,"y":53,"w":5,"g":"o","to":["27.26","27.0","27.27","27.30"]},
{"r":2,"d":"1900-1909","k":"27.27","x":82.7,"y":59,"w":12,"g":"o","to":["27.27","27.0","27.28","27.30"]},
{"r":2,"d":"1900-1909","k":"27.28","x":76.1,"y":61.5,"w":12,"g":"o","to":["27.28","27.0","27.31","27.30"]},
{"r":2,"d":"1900-1909","k":"27.40","x":55.1,"y":53.3,"w":25,"g":"o","to":["27.40","27.0","27.17","27.21","27.29"]},
{"r":2,"d":"1900-1909","k":"27.29","x":59.2,"y":68.9,"w":225,"g":"o","to":["27.29","27.0","27.31","27.32","27.33","27.34","27.35"]},
{"r":2,"d":"1900-1909","k":"27.30","x":90.8,"y":71,"w":108,"g":"o","to":["27.30","27.0","27.31","27.37"]},
{"r":2,"d":"1900-1909","k":"27.31","x":75.9,"y":78.2,"w":25,"g":"o","to":["27.31","27.0","27.32","27.36","27.37"]},
{"r":2,"d":"1900-1909","k":"27.32","x":66.3,"y":80.3,"w":25,"g":"o","to":["27.32","27.0","27.33","27.34"]},
{"r":2,"d":"1900-1909","k":"27.33","x":56.1,"y":82,"w":14,"g":"o","to":["27.33","27.0","27.34"]},
{"r":2,"d":"1900-1909","k":"27.34","x":67.3,"y":90.2,"w":5,"g":"o","to":["27.34","27.0","27.35"]},
{"r":2,"d":"1900-1909","k":"27.35","x":69.4,"y":87.7,"w":5,"g":"o","to":["27.35","27.0","27.36"]},
{"r":2,"d":"1900-1909","k":"27.36","x":73.1,"y":87.4,"w":5,"g":"o","to":["27.36","27.0","27.37"]},
{"r":2,"d":"1900-1909","k":"27.37","x":76.5,"y":86.9,"w":5,"g":"o","to":["27.37","27.0","27.38"]},
{"r":2,"d":"1900-1909","k":"27.38","x":74.5,"y":84.4,"w":5,"g":"o","to":["27.38","27.0","27.39"]},
{"r":2,"d":"1900-1909","k":"27.39","x":80.6,"y":67.2,"w":5,"g":"o","to":["27.39","27.0","27.28"]},

{"r":3,"d":"1840-1849","k":"31.0","x":54.2,"y":31.1,"w":64,"g":"b","e":1,"to":["31.0"]},
{"r":3,"d":"1840-1849","k":"31.1","x":24.2,"y":8.7,"w":121,"g":"b","to":["31.1","31.0","31.2","31.3","31.5"]},
{"r":3,"d":"1840-1849","k":"31.2","x":36.7,"y":10.2,"w":16,"g":"b","to":["31.2","31.0","31.3"]},
{"r":3,"d":"1840-1849","k":"31.3","x":46.4,"y":10.7,"w":5,"g":"b","to":["31.3","31.0"]},
{"r":3,"d":"1840-1849","k":"31.4","x":45.8,"y":18.5,"w":5,"g":"b","to":["31.4","31.0","31.1"]},
{"r":3,"d":"1840-1849","k":"31.5","x":43.6,"y":28.4,"w":57,"g":"b","to":["31.5","31.0"]},
{"r":3,"d":"1840-1849","k":"31.6","x":54.2,"y":25.4,"w":5,"g":"b","to":["31.6","31.0"]},
{"r":3,"d":"1840-1849","k":"31.7","x":67.8,"y":32,"w":77,"g":"b","to":["31.7","31.0"]},
{"r":3,"d":"1840-1849","k":"31.8","x":8.3,"y":36.6,"w":16,"g":"b","to":["31.8","31.0","31.5","31.9"]},
{"r":3,"d":"1840-1849","k":"31.9","x":35.8,"y":34.9,"w":14,"g":"b","to":["31.9","31.0"]},
{"r":3,"d":"1840-1849","k":"31.10","x":70.6,"y":10.2,"w":5,"g":"b","to":["31.10","31.0"]},
{"r":3,"d":"1840-1849","k":"31.11","x":77.8,"y":12.8,"w":14,"g":"b","to":["31.11","31.0"]},
{"r":3,"d":"1840-1849","k":"31.12","x":74.4,"y":19.2,"w":5,"g":"b","to":["31.12","31.0"]},
{"r":3,"d":"1840-1849","k":"31.13","x":82.5,"y":20.8,"w":5,"g":"b","to":["31.13","31.0"]},
{"r":3,"d":"1840-1849","k":"31.14","x":80.3,"y":26.7,"w":5,"g":"b","to":["31.14","31.0"]},
{"r":3,"d":"1840-1849","k":"31.15","x":78.3,"y":32.8,"w":5,"g":"b","to":["31.15","31.0"]},
{"r":3,"d":"1840-1849","k":"31.16","x":78.3,"y":39.7,"w":14,"g":"b","to":["31.16","31.0"]},
{"r":3,"d":"1840-1849","k":"31.17","x":77.5,"y":60.7,"w":5,"g":"b","to":["31.17","31.0"]},
{"r":3,"d":"1840-1849","k":"31.18","x":90.8,"y":89.3,"w":77,"g":"b","to":["31.18","31.0","31.17"]},

{"r":3,"d":"1850-1859","k":"32.0","x":57.2,"y":53.6,"w":81,"g":"s","e":1,"to":["32.0"]},
{"r":3,"d":"1850-1859","k":"32.1","x":8.3,"y":8.7,"w":16,"g":"o","to":["32.1","32.0"]},
{"r":3,"d":"1850-1859","k":"32.2","x":69.4,"y":24.3,"w":16,"g":"o","to":["32.2","32.0"]},
{"r":3,"d":"1850-1859","k":"32.3","x":68.3,"y":35.6,"w":8,"g":"o","to":["32.3","32.0"]},
{"r":3,"d":"1850-1859","k":"32.4","x":91.1,"y":20,"w":5,"g":"b","to":["32.4","32.0"]},
{"r":3,"d":"1850-1859","k":"32.5","x":36.1,"y":42.6,"w":5,"g":"b","to":["32.5","32.0"]},
{"r":3,"d":"1850-1859","k":"32.6","x":24.2,"y":62.3,"w":16,"g":"b","to":["32.6","32.0","32.5"]},
{"r":3,"d":"1850-1859","k":"32.7","x":78.3,"y":61.8,"w":5,"g":"b","to":["32.7","32.0"]},
{"r":3,"d":"1850-1859","k":"32.8","x":66.1,"y":67.7,"w":20,"g":"b","to":["32.8","32.0"]},
{"r":3,"d":"1850-1859","k":"32.9","x":71.7,"y":83.6,"w":121,"g":"l","to":["32.9","32.0","32.7","32.8"]},
{"r":3,"d":"1850-1859","k":"32.10","x":85.6,"y":90.7,"w":14,"g":"b","to":["32.10","32.0"]},

{"r":3,"d":"1860-1869","k":"33.0","x":51.4,"y":67.7,"w":64,"g":"b","e":1,"to":["33.0"]},
{"r":3,"d":"1860-1869","k":"33.1","x":85.6,"y":8.5,"w":8,"g":"b","to":["33.1","33.0"]},
{"r":3,"d":"1860-1869","k":"33.2","x":9.2,"y":54.9,"w":14,"g":"b","to":["33.2","33.0"]},
{"r":3,"d":"1860-1869","k":"33.3","x":66.7,"y":64.3,"w":40,"g":"b","to":["33.3","33.0"]},
{"r":3,"d":"1860-1869","k":"33.4","x":78.6,"y":63.9,"w":5,"g":"b","to":["33.4","33.0","33.3"]},
{"r":3,"d":"1860-1869","k":"33.5","x":89.7,"y":71.6,"w":16,"g":"b","to":["33.5","33.0"]},
{"r":3,"d":"1860-1869","k":"33.6","x":90.6,"y":77.5,"w":5,"g":"b","to":["33.6","33.0"]},
{"r":3,"d":"1860-1869","k":"33.7","x":84.2,"y":82.3,"w":5,"g":"b","to":["33.7","33.0"]},
{"r":3,"d":"1860-1869","k":"33.8","x":78.6,"y":87.4,"w":5,"g":"b","to":["33.8","33.0"]},
{"r":3,"d":"1860-1869","k":"33.9","x":67.5,"y":84,"w":5,"g":"b","to":["33.9","33.0"]},
{"r":3,"d":"1860-1869","k":"33.10","x":62.8,"y":75,"w":8,"g":"b","to":["33.10","33.0"]},
{"r":3,"d":"1860-1869","k":"33.11","x":64.2,"y":90.7,"w":5,"g":"b","to":["33.11","33.0"]},
{"r":3,"d":"1860-1869","k":"33.12","x":50.3,"y":84,"w":5,"g":"b","to":["33.12","33.0"]},
{"r":3,"d":"1860-1869","k":"33.13","x":50.3,"y":89.8,"w":5,"g":"b","to":["33.13","33.0"]},
{"r":3,"d":"1860-1869","k":"33.14","x":37.5,"y":87.7,"w":14,"g":"b","to":["33.14","33.0"]},
{"r":3,"d":"1860-1869","k":"33.15","x":26.7,"y":82.5,"w":48,"g":"b","to":["33.15","33.0"]},
{"r":3,"d":"1860-1869","k":"33.16","x":23.6,"y":87.4,"w":5,"g":"b","to":["33.16","33.0"]},
{"r":3,"d":"1860-1869","k":"33.17","x":12.5,"y":81.1,"w":5,"g":"b","to":["33.17","33.0"]},
{"r":3,"d":"1860-1869","k":"33.18","x":12.5,"y":75.7,"w":5,"g":"b","to":["33.18","33.0"]},
{"r":3,"d":"1860-1869","k":"33.19","x":8.6,"y":70,"w":5,"g":"b","to":["33.19","33.0"]},
{"r":3,"d":"1860-1869","k":"33.20","x":23.1,"y":69.2,"w":5,"g":"b","to":["33.20","33.0"]},
{"r":3,"d":"1860-1869","k":"33.21","x":40.3,"y":74.6,"w":5,"g":"b","to":["33.21","33.0"]},

{"r":3,"d":"1870-1879","k":"34.0","x":39.2,"y":28.4,"w":25,"g":"b","e":1,"to":["34.0"]},
{"r":3,"d":"1870-1879","k":"34.1","x":7.1,"y":8.5,"w":62,"g":"b","to":["34.1","34.0","34.2","34.3","34.4"]},
{"r":3,"d":"1870-1879","k":"34.2","x":39.2,"y":9.8,"w":77,"g":"b","to":["34.2","34.0","34.5"]},
{"r":3,"d":"1870-1879","k":"34.3","x":36.4,"y":17.7,"w":16,"g":"b","to":["34.3","34.0"]},
{"r":3,"d":"1870-1879","k":"34.4","x":20,"y":20.5,"w":5,"g":"b","to":["34.4","34.0"]},
{"r":3,"d":"1870-1879","k":"34.5","x":59.2,"y":21,"w":14,"g":"b","to":["34.5","34.0"]},
{"r":3,"d":"1870-1879","k":"34.6","x":66.6,"y":59.5,"w":5,"g":"b","to":["34.6","34.0"]},
{"r":3,"d":"1870-1879","k":"34.7","x":89,"y":90.7,"w":143,"g":"b","to":["34.7","34.0","34.6"]},

{"r":3,"d":"1880-1889","k":"35.0","x":52.5,"y":47.5,"w":81,"g":"b","e":1,"to":["35.0"]},
{"r":3,"d":"1880-1889","k":"35.1","x":8.4,"y":8.7,"w":48,"g":"o","to":["35.1","35.0","35.2"]},
{"r":3,"d":"1880-1889","k":"35.2","x":29.3,"y":19.7,"w":5,"g":"b","to":["35.2","35.0"]},
{"r":3,"d":"1880-1889","k":"35.3","x":47.5,"y":20.2,"w":12,"g":"p","to":["35.3","35.0"]},
{"r":3,"d":"1880-1889","k":"35.4","x":54.6,"y":17.7,"w":12,"g":"b","to":["35.4","35.0"]},
{"r":3,"d":"1880-1889","k":"35.5","x":60.7,"y":19.8,"w":12,"g":"b","to":["35.5","35.0"]},
{"r":3,"d":"1880-1889","k":"35.6","x":52.7,"y":30.7,"w":12,"g":"b","to":["35.6","35.0"]},
{"r":3,"d":"1880-1889","k":"35.7","x":59.3,"y":32.8,"w":14,"g":"b","to":["35.7","35.0"]},
{"r":3,"d":"1880-1889","k":"35.8","x":42.4,"y":34.4,"w":5,"g":"b","to":["35.8","35.0"]},
{"r":3,"d":"1880-1889","k":"35.9","x":47.3,"y":40.2,"w":48,"g":"b","to":["35.9","35.0"]},
{"r":3,"d":"1880-1889","k":"35.10","x":37.5,"y":42.1,"w":12,"g":"b","to":["35.10","35.0"]},
{"r":3,"d":"1880-1889","k":"35.11","x":45.4,"y":50.8,"w":36,"g":"b","to":["35.11","35.0"]},
{"r":3,"d":"1880-1889","k":"35.12","x":52.7,"y":56.9,"w":16,"g":"b","to":["35.12","35.0"]},
{"r":3,"d":"1880-1889","k":"35.13","x":41.1,"y":62.6,"w":16,"g":"b","to":["35.13","35.0"]},
{"r":3,"d":"1880-1889","k":"35.14","x":90.8,"y":70,"w":42,"g":"b","to":["35.14","35.0","35.11"]},
{"r":3,"d":"1880-1889","k":"35.15","x":72.9,"y":80.8,"w":36,"g":"b","to":["35.15","35.0","35.11"]},
{"r":3,"d":"1880-1889","k":"35.16","x":31.8,"y":90.7,"w":10,"g":"b","to":["35.16","35.0"]},

{"r":3,"d":"1890-1899","k":"36.0","x":36.3,"y":65.9,"w":20,"g":"p","e":1,"to":["36.0"]},
{"r":3,"d":"1890-1899","k":"36.1","x":45.9,"y":8.7,"w":16,"g":"b","to":["36.1","36.0"]},
{"r":3,"d":"1890-1899","k":"36.2","x":20.4,"y":50.3,"w":20,"g":"b","to":["36.2","36.0","36.3"]},
{"r":3,"d":"1890-1899","k":"36.3","x":26.7,"y":47.9,"w":12,"g":"b","to":["36.3","36.0"]},
{"r":3,"d":"1890-1899","k":"36.4","x":63.5,"y":48.9,"w":14,"g":"b","to":["36.4","36.0"]},
{"r":3,"d":"1890-1899","k":"36.5","x":8.4,"y":88.2,"w":77,"g":"o","to":["36.5","36.0"]},
{"r":3,"d":"1890-1899","k":"36.6","x":90.8,"y":90.7,"w":58,"g":"o","to":["36.6","36.0","36.4"]},

{"r":3,"d":"1900-1909","k":"37.0","x":49,"y":56.1,"w":81,"g":"o","e":1,"to":["37.0"]},
{"r":3,"d":"1900-1909","k":"37.1","x":80,"y":8.7,"w":86,"g":"o","to":["37.1","37.0","37.5"]},
{"r":3,"d":"1900-1909","k":"37.2","x":28.6,"y":24.3,"w":25,"g":"p","to":["37.2","37.0","37.3","37.4","37.6","37.7","37.19"]},
{"r":3,"d":"1900-1909","k":"37.3","x":40.8,"y":41.8,"w":225,"g":"o","to":["37.3","37.0","37.5","37.9","37.10","37.17","37.18","37.19","37.21","37.22"]},
{"r":3,"d":"1900-1909","k":"37.4","x":50.6,"y":31.5,"w":16,"g":"p","to":["37.4","37.0","37.3","37.5"]},
{"r":3,"d":"1900-1909","k":"37.5","x":66.3,"y":38.5,"w":86,"g":"s","to":["37.5","37.0","37.16","37.18","37.19","37.22"]},
{"r":3,"d":"1900-1909","k":"37.6","x":24.5,"y":39.3,"w":86,"g":"o","to":["37.6","37.0","37.3","37.8","37.24","37.19","37.21","37.22"]},
{"r":3,"d":"1900-1909","k":"37.7","x":27.6,"y":36.1,"w":40,"g":"o","to":["37.7","37.0","37.3","37.9","37.19"]},
{"r":3,"d":"1900-1909","k":"37.8","x":20.4,"y":44.3,"w":77,"g":"o","to":["37.8","37.0","37.9","37.25","37.10","37.21","37.19","37.22"]},
{"r":3,"d":"1900-1909","k":"37.9","x":26.9,"y":44.8,"w":66,"g":"l","to":["37.9","37.0","37.10","37.3","37.22"]},
{"r":3,"d":"1900-1909","k":"37.10","x":32.7,"y":44.8,"w":14,"g":"o","to":["37.10","37.0","37.11"]},
{"r":3,"d":"1900-1909","k":"37.11","x":49,"y":43.4,"w":16,"g":"o","to":["37.11","37.0","37.17","37.19"]},
{"r":3,"d":"1900-1909","k":"37.12","x":48,"y":46.7,"w":16,"g":"b","to":["37.12","37.0","37.18"]},
{"r":3,"d":"1900-1909","k":"37.13","x":50,"y":50.8,"w":16,"g":"o","to":["37.13","37.0","37.19","37.21","37.22"]},
{"r":3,"d":"1900-1909","k":"37.14","x":49,"y":59.8,"w":40,"g":"o","to":["37.14","37.0","37.21","37.23"]},
{"r":3,"d":"1900-1909","k":"37.15","x":44.9,"y":60.7,"w":12,"g":"o","to":["37.15","37.0"]},
{"r":3,"d":"1900-1909","k":"37.16","x":72,"y":41.5,"w":6,"g":"o","to":["37.16","37.0","37.18","37.20"]},
{"r":3,"d":"1900-1909","k":"37.17","x":68.4,"y":49.8,"w":16,"g":"o","to":["37.17","37.0","37.19","37.22"]},
{"r":3,"d":"1900-1909","k":"37.18","x":77.6,"y":47.5,"w":30,"g":"o","to":["37.18","37.0","37.19","37.20"]},
{"r":3,"d":"1900-1909","k":"37.19","x":81.6,"y":48.4,"w":77,"g":"o","to":["37.19","37.0","37.20","37.21","37.22"]},
{"r":3,"d":"1900-1909","k":"37.20","x":86.7,"y":45.9,"w":16,"g":"o","to":["37.20","37.0","37.21"]},
{"r":3,"d":"1900-1909","k":"37.21","x":90.8,"y":48.4,"w":48,"g":"o","to":["37.21","37.0","37.22","37.23"]},
{"r":3,"d":"1900-1909","k":"37.22","x":83.1,"y":54.1,"w":48,"g":"o","to":["37.22","37.0","37.23"]},
{"r":3,"d":"1900-1909","k":"37.23","x":88.2,"y":57.9,"w":16,"g":"o","to":["37.23","37.0"]},
{"r":3,"d":"1900-1909","k":"37.24","x":8.6,"y":64.3,"w":5,"g":"o","to":["37.24","37.0","37.8"]},
{"r":3,"d":"1900-1909","k":"37.25","x":10.2,"y":68.9,"w":5,"g":"o","to":["37.25","37.0","37.9"]},
{"r":3,"d":"1900-1909","k":"37.26","x":42.2,"y":71.6,"w":20,"g":"o","to":["37.26","37.0","37.27"]},
{"r":3,"d":"1900-1909","k":"37.27","x":35.1,"y":79.2,"w":25,"g":"o","to":["37.27","37.0"]},
{"r":3,"d":"1900-1909","k":"37.28","x":11.2,"y":82.3,"w":5,"g":"o","to":["37.28","37.0"]},
{"r":3,"d":"1900-1909","k":"37.29","x":14.3,"y":86.1,"w":5,"g":"o","to":["37.29","37.0"]},
{"r":3,"d":"1900-1909","k":"37.30","x":21.4,"y":85.6,"w":5,"g":"o","to":["37.30","37.0"]},
{"r":3,"d":"1900-1909","k":"37.31","x":29.6,"y":88.2,"w":5,"g":"o","to":["37.31","37.0"]},
{"r":3,"d":"1900-1909","k":"37.32","x":34.7,"y":88.2,"w":14,"g":"o","to":["37.32","37.0"]},
{"r":3,"d":"1900-1909","k":"37.33","x":23.5,"y":90.7,"w":5,"g":"o","to":["37.33","37.0"]},

{"r":4,"d":"1840-1849","k":"41.0","x":40.8,"y":41.5,"w":64,"g":"b","e":1,"to":["41.0"]},
{"r":4,"d":"1840-1849","k":"41.1","x":41.7,"y":8.5,"w":16,"g":"b","to":["41.1","41.0"]},
{"r":4,"d":"1840-1849","k":"41.2","x":29.7,"y":10.7,"w":5,"g":"b","to":["41.2","41.0"]},
{"r":4,"d":"1840-1849","k":"41.3","x":21.9,"y":13.9,"w":5,"g":"b","to":["41.3","41.0"]},
{"r":4,"d":"1840-1849","k":"41.4","x":14.4,"y":18,"w":5,"g":"b","to":["41.4","41.0"]},
{"r":4,"d":"1840-1849","k":"41.5","x":16.4,"y":28.2,"w":30,"g":"b","to":["41.5","41.0"]},
{"r":4,"d":"1840-1849","k":"41.6","x":34.4,"y":28.4,"w":25,"g":"b","to":["41.6","41.0"]},
{"r":4,"d":"1840-1849","k":"41.7","x":8.3,"y":30,"w":5,"g":"b","to":["41.7","41.0"]},
{"r":4,"d":"1840-1849","k":"41.8","x":27.8,"y":38.5,"w":14,"g":"b","to":["41.8","41.0"]},
{"r":4,"d":"1840-1849","k":"41.9","x":9.4,"y":41.3,"w":5,"g":"b","to":["41.9","41.0"]},
{"r":4,"d":"1840-1849","k":"41.10","x":15.3,"y":48.4,"w":16,"g":"b","to":["41.10","41.0"]},
{"r":4,"d":"1840-1849","k":"41.11","x":58.9,"y":63.6,"w":5,"g":"b","to":["41.11","41.0"]},
{"r":4,"d":"1840-1849","k":"41.13","x":90.8,"y":86.9,"w":16,"g":"b","to":["41.13","41.0"]},
{"r":4,"d":"1840-1849","k":"41.12","x":89.4,"y":91,"w":89,"g":"b","to":["41.12","41.0","41.11"]},

{"r":4,"d":"1850-1859","k":"42.0","x":59.7,"y":55.2,"w":30,"g":"b","e":1,"to":["42.0"]},
{"r":4,"d":"1850-1859","k":"42.1","x":8.3,"y":8.7,"w":62,"g":"b","to":["42.1","42.0","42.5"]},
{"r":4,"d":"1850-1859","k":"42.2","x":57.5,"y":10.7,"w":158,"g":"b","to":["42.2","42.0","42.3"]},
{"r":4,"d":"1850-1859","k":"42.3","x":74.4,"y":32,"w":48,"g":"b","to":["42.3","42.0"]},
{"r":4,"d":"1850-1859","k":"42.4","x":65.8,"y":36.6,"w":8,"g":"b","to":["42.4","42.0"]},
{"r":4,"d":"1850-1859","k":"42.5","x":25,"y":38.5,"w":16,"g":"b","to":["42.5","42.0"]},
{"r":4,"d":"1850-1859","k":"42.6","x":91.1,"y":68.3,"w":5,"g":"b","to":["42.6","42.0"]},
{"r":4,"d":"1850-1859","k":"42.7","x":73,"y":72.1,"w":16,"g":"b","to":["42.7","42.0"]},
{"r":4,"d":"1850-1859","k":"42.8","x":88.3,"y":79.2,"w":5,"g":"b","to":["42.8","42.0"]},
{"r":4,"d":"1850-1859","k":"42.9","x":81.9,"y":80,"w":8,"g":"b","to":["42.9","42.0"]},
{"r":4,"d":"1850-1859","k":"42.10","x":66.1,"y":78.4,"w":8,"g":"b","to":["42.10","42.0"]},
{"r":4,"d":"1850-1859","k":"42.11","x":72.2,"y":87.2,"w":5,"g":"b","to":["42.11","42.0"]},
{"r":4,"d":"1850-1859","k":"42.12","x":79.7,"y":88.9,"w":5,"g":"b","to":["42.12","42.0"]},
{"r":4,"d":"1850-1859","k":"42.13","x":66.1,"y":89.8,"w":5,"g":"b","to":["42.13","42.0","42.10"]},
{"r":4,"d":"1850-1859","k":"42.14","x":58.3,"y":89.3,"w":5,"g":"b","to":["42.14","42.0"]},
{"r":4,"d":"1850-1859","k":"42.15","x":52.2,"y":89.3,"w":10,"g":"b","to":["42.15","42.0","42.14"]},

{"r":4,"d":"1860-1869","k":"43.0","x":49.4,"y":46.7,"w":4,"g":"b","e":1,"to":["43.0"]},
{"r":4,"d":"1860-1869","k":"43.1","x":8.3,"y":8.5,"w":77,"g":"b","to":["43.1","43.0"]},
{"r":4,"d":"1860-1869","k":"43.2","x":90.6,"y":90.7,"w":143,"g":"o","to":["43.2","43.0"]},

{"r":4,"d":"1870-1879","k":"44.0","x":42.5,"y":45.4,"w":324,"g":"s","e":1,"to":["44.0"]},
{"r":4,"d":"1870-1879","k":"44.1","x":67.1,"y":9,"w":246,"g":"b","to":["44.1","44.0"]},
{"r":4,"d":"1870-1879","k":"44.2","x":45.2,"y":14.8,"w":25,"g":"o","to":["44.2","44.0"]},
{"r":4,"d":"1870-1879","k":"44.3","x":27.7,"y":27,"w":6,"g":"o","to":["44.3","44.0"]},
{"r":4,"d":"1870-1879","k":"44.4","x":32.1,"y":28.4,"w":5,"g":"b","to":["44.4","44.0"]},
{"r":4,"d":"1870-1879","k":"44.5","x":21.9,"y":29,"w":6,"g":"o","to":["44.5","44.0"]},
{"r":4,"d":"1870-1879","k":"44.6","x":7.4,"y":32.5,"w":16,"g":"o","to":["44.6","44.0"]},
{"r":4,"d":"1870-1879","k":"44.7","x":18.6,"y":35,"w":5,"g":"b","to":["44.7","44.0"]},
{"r":4,"d":"1870-1879","k":"44.8","x":26,"y":33.6,"w":6,"g":"b","to":["44.8","44.0"]},
{"r":4,"d":"1870-1879","k":"44.9","x":22.5,"y":39.3,"w":30,"g":"o","to":["44.9","44.0"]},
{"r":4,"d":"1870-1879","k":"44.10","x":37.3,"y":35,"w":14,"g":"p","to":["44.10","44.0"]},
{"r":4,"d":"1870-1879","k":"44.11","x":15.9,"y":41,"w":5,"g":"b","to":["44.11","44.0"]},
{"r":4,"d":"1870-1879","k":"44.12","x":11.2,"y":46.4,"w":36,"g":"s","to":["44.12","44.0"]},
{"r":4,"d":"1870-1879","k":"44.13","x":20.8,"y":45.6,"w":6,"g":"b","to":["44.13","44.0"]},
{"r":4,"d":"1870-1879","k":"44.14","x":15.9,"y":49.7,"w":12,"g":"b","to":["44.14","44.0"]},
{"r":4,"d":"1870-1879","k":"44.15","x":22.2,"y":53,"w":14,"g":"o","to":["44.15","44.0"]},
{"r":4,"d":"1870-1879","k":"44.16","x":18.1,"y":56.6,"w":5,"g":"b","to":["44.16","44.0"]},
{"r":4,"d":"1870-1879","k":"44.17","x":26.9,"y":59.8,"w":5,"g":"b","to":["44.17","44.0"]},
{"r":4,"d":"1870-1879","k":"44.18","x":31,"y":51.6,"w":5,"g":"b","to":["44.18","44.0"]},
{"r":4,"d":"1870-1879","k":"44.19","x":34.2,"y":55.2,"w":30,"g":"o","to":["44.19","44.0"]},
{"r":4,"d":"1870-1879","k":"44.20","x":20.5,"y":67.5,"w":14,"g":"o","to":["44.20","44.0","44.17"]},
{"r":4,"d":"1870-1879","k":"44.21","x":55.6,"y":50.8,"w":196,"g":"o","to":["44.21","44.0"]},
{"r":4,"d":"1870-1879","k":"44.22","x":89,"y":78.2,"w":16,"g":"b","to":["44.22","44.0"]},
{"r":4,"d":"1870-1879","k":"44.23","x":59.7,"y":90.5,"w":16,"g":"o","to":["44.23","44.0"]},

{"r":4,"d":"1880-1889","k":"45.0","x":59.7,"y":46.7,"w":81,"g":"o","e":1,"to":["45.0"]},
{"r":4,"d":"1880-1889","k":"45.1","x":90.4,"y":8.5,"w":108,"g":"o","to":["45.1","45.0"]},
{"r":4,"d":"1880-1889","k":"45.2","x":79.2,"y":15.6,"w":42,"g":"o","to":["45.2","45.0","45.1"]},
{"r":4,"d":"1880-1889","k":"45.3","x":63.3,"y":22.1,"w":5,"g":"b","to":["45.3","45.0"]},
{"r":4,"d":"1880-1889","k":"45.4","x":71.9,"y":54.9,"w":26,"g":"l","to":["45.4","45.0"]},
{"r":4,"d":"1880-1889","k":"45.5","x":89.8,"y":59.8,"w":94,"g":"b","to":["45.5","45.0","45.4"]},
{"r":4,"d":"1880-1889","k":"45.6","x":8.4,"y":90.2,"w":134,"g":"p","to":["45.6","45.0"]},

{"r":4,"d":"1890-1899","k":"46.0","x":45.9,"y":51.3,"w":16,"g":"o","e":1,"to":["46.0"]},
{"r":4,"d":"1890-1899","k":"46.1","x":8.4,"y":8.7,"w":134,"g":"s","to":["46.1","46.0","46.2"]},
{"r":4,"d":"1890-1899","k":"46.2","x":27.8,"y":32.5,"w":16,"g":"o","to":["46.2","46.0"]},
{"r":4,"d":"1890-1899","k":"46.3","x":90.8,"y":77,"w":66,"g":"b","to":["46.3","46.0"]},
{"r":4,"d":"1890-1899","k":"46.4","x":49.2,"y":90.2,"w":8,"g":"o","to":["46.4","46.0"]},
{"r":4,"d":"1890-1899","k":"46.5","x":59.2,"y":86.6,"w":8,"g":"o","to":["46.5","46.0","46.4"]},

{"r":4,"d":"1900-1909","k":"47.0","x":49,"y":49.2,"w":81,"g":"o","e":1,"to":["47.0"]},
{"r":4,"d":"1900-1909","k":"47.1","x":68.4,"y":8.7,"w":256,"g":"o","to":["47.1","47.0","47.2","47.4","47.6","47.8","47.10","47.11","47.12"]},
{"r":4,"d":"1900-1909","k":"47.2","x":45.9,"y":22.5,"w":30,"g":"o","to":["47.2","47.0","47.3","47.6"]},
{"r":4,"d":"1900-1909","k":"47.3","x":41.4,"y":28.4,"w":8,"g":"o","to":["47.3","47.0","47.7","47.13"]},
{"r":4,"d":"1900-1909","k":"47.4","x":61.2,"y":27.4,"w":30,"g":"o","to":["47.4","47.0","47.6","47.10","47.5"]},
{"r":4,"d":"1900-1909","k":"47.5","x":77.6,"y":33.1,"w":5,"g":"o","to":["47.5","47.0","47.10","47.12"]},
{"r":4,"d":"1900-1909","k":"47.6","x":54.5,"y":34.8,"w":64,"g":"o","to":["47.6","47.0","47.7","47.8","47.9","47.11"]},
{"r":4,"d":"1900-1909","k":"47.7","x":46.9,"y":36.9,"w":6,"g":"o","to":["47.7","47.0","47.9","47.13"]},
{"r":4,"d":"1900-1909","k":"47.8","x":60.2,"y":37.7,"w":16,"g":"o","to":["47.8","47.0","47.10","47.11"]},
{"r":4,"d":"1900-1909","k":"47.9","x":50.4,"y":41,"w":12,"g":"b","to":["47.9","47.0","47.11","47.13"]},
{"r":4,"d":"1900-1909","k":"47.10","x":63.3,"y":42.6,"w":86,"g":"o","to":["47.10","47.0","47.11","47.12","47.14"]},
{"r":4,"d":"1900-1909","k":"47.11","x":57.1,"y":42.6,"w":30,"g":"o","to":["47.11","47.0","47.12","47.14"]},
{"r":4,"d":"1900-1909","k":"47.12","x":61.2,"y":47.5,"w":40,"g":"o","to":["47.12","47.0","47.14","47.26","47.27"]},
{"r":4,"d":"1900-1909","k":"47.13","x":45.5,"y":44.3,"w":16,"g":"o","to":["47.13","47.0","47.14","47.16"]},
{"r":4,"d":"1900-1909","k":"47.14","x":54.1,"y":53.3,"w":16,"g":"o","to":["47.14","47.0","47.22"]},
{"r":4,"d":"1900-1909","k":"47.15","x":8.6,"y":64.8,"w":5,"g":"o","to":["47.15","47.0","47.16"]},
{"r":4,"d":"1900-1909","k":"47.16","x":23.5,"y":65.9,"w":108,"g":"o","to":["47.16","47.0","47.17","47.18","47.20","47.21","47.23","47.24","47.6","47.10","47.11","47.12","47.9"]},
{"r":4,"d":"1900-1909","k":"47.17","x":34.3,"y":64.8,"w":6,"g":"o","to":["47.17","47.0","47.18","47.20"]},
{"r":4,"d":"1900-1909","k":"47.18","x":36.7,"y":64.8,"w":12,"g":"o","to":["47.18","47.0","47.19","47.21","47.10"]},
{"r":4,"d":"1900-1909","k":"47.19","x":39.4,"y":67.2,"w":6,"g":"o","to":["47.19","47.0","47.21","47.22","47.6"]},
{"r":4,"d":"1900-1909","k":"47.20","x":37.3,"y":71,"w":16,"g":"o","to":["47.20","47.0","47.21","47.23","47.25","47.6","47.11"]},
{"r":4,"d":"1900-1909","k":"47.21","x":40.8,"y":73.8,"w":40,"g":"s","to":["47.21","47.0","47.22","47.25","47.26","47.10","47.6","47.11"]},
{"r":4,"d":"1900-1909","k":"47.22","x":46.5,"y":76.6,"w":40,"g":"o","to":["47.22","47.0","47.25","47.26","47.28","47.6","47.10","47.11"]},
{"r":4,"d":"1900-1909","k":"47.23","x":34.1,"y":77.5,"w":16,"g":"o","to":["47.23","47.0","47.24","47.25"]},
{"r":4,"d":"1900-1909","k":"47.24","x":26.9,"y":75.1,"w":6,"g":"o","to":["47.24","47.0","47.25"]},
{"r":4,"d":"1900-1909","k":"47.25","x":42.9,"y":82.8,"w":30,"g":"o","to":["47.25","47.0","47.28","47.26","47.6","47.10","47.11","47.12"]},
{"r":4,"d":"1900-1909","k":"47.26","x":67.8,"y":69.3,"w":30,"g":"o","to":["47.26","47.0","47.27","47.6"]},
{"r":4,"d":"1900-1909","k":"47.27","x":90.8,"y":73.4,"w":16,"g":"o","to":["47.27","47.0","47.10"]},
{"r":4,"d":"1900-1909","k":"47.28","x":46.9,"y":90.2,"w":16,"g":"o","to":["47.28","47.0","47.6","47.10","47.11","47.12"]}
]},
"data": {"name": "all"},
"transform": [
  {"flatten": ["to"], "as": ["t"]},
  {"lookup": "t", "from": {"data": {"name": "all"}, "key": "k", "fields": ["x", "y"]}, "as": ["tx", "ty"]}
],
"facet": {
  "row": {"field": "r", "type": "ordinal", "header": {"title": null, "labelAngle": 0, "labelFontSize": 18, "labelFont": "DejaVu Sans", "labelColor": "black", "labelPadding": 15, "labelAlign": "right"}},
  "column": {"field": "d", "type": "ordinal", "header": {"title": null, "labelOrient": "bottom", "labelFontSize": 19, "labelFont": "DejaVu Sans", "labelColor": "black", "labelPadding": 29}}
},
"spacing": {"row": 43, "column": 19.5},
"spec": {
  "width": 227,
  "height": 202,
  "layer": [
    {
      "transform": [{"filter": "isValid(datum.k) && datum.t != datum.k && isValid(datum.tx)"}],
      "mark": {"type": "rule", "stroke": "#6e6e6e", "strokeWidth": 1.4, "opacity": 0.72},
      "encoding": {
        "x": {"field": "x", "type": "quantitative", "scale": {"domain": [0, 100], "nice": false, "zero": false}, "axis": null},
        "y": {"field": "y", "type": "quantitative", "scale": {"domain": [0, 100], "nice": false, "zero": false, "reverse": true}, "axis": null},
        "x2": {"field": "tx"},
        "y2": {"field": "ty"}
      }
    },
    {
      "transform": [{"filter": "isValid(datum.k) && datum.t == datum.k && datum.e != 1"}],
      "mark": {"type": "circle", "stroke": "black", "strokeWidth": 0.8, "opacity": 1, "fillOpacity": 1},
      "encoding": {
        "x": {"field": "x", "type": "quantitative", "scale": {"domain": [0, 100], "nice": false, "zero": false}, "axis": null},
        "y": {"field": "y", "type": "quantitative", "scale": {"domain": [0, 100], "nice": false, "zero": false, "reverse": true}, "axis": null},
        "size": {"field": "w", "type": "quantitative", "scale": {"type": "linear", "domain": [0, 100], "range": [0, 314]}, "legend": null},
        "fill": {"field": "g", "type": "nominal", "scale": {"domain": ["b", "o", "p", "s", "l"], "range": ["#56B4E9", "#E69F00", "#F2B8CC", "#F6AF86", "#B9B3DA"]}, "legend": null}
      }
    },
    {
      "transform": [{"filter": "isValid(datum.k) && datum.t == datum.k && datum.e == 1"}],
      "mark": {"type": "circle", "stroke": "black", "strokeWidth": 5, "opacity": 1, "fillOpacity": 1},
      "encoding": {
        "x": {"field": "x", "type": "quantitative", "scale": {"domain": [0, 100], "nice": false, "zero": false}, "axis": null},
        "y": {"field": "y", "type": "quantitative", "scale": {"domain": [0, 100], "nice": false, "zero": false, "reverse": true}, "axis": null},
        "size": {"field": "w", "type": "quantitative", "scale": {"type": "linear", "domain": [0, 100], "range": [0, 314]}, "legend": null},
        "fill": {"field": "g", "type": "nominal", "scale": {"domain": ["b", "o", "p", "s", "l"], "range": ["#56B4E9", "#E69F00", "#F2B8CC", "#F6AF86", "#B9B3DA"]}, "legend": null}
      }
    },
    {
      "transform": [{"filter": "isValid(datum.nm)"}],
      "mark": {"type": "text", "fontSize": 15, "font": "DejaVu Sans", "baseline": "middle", "align": "center"},
      "encoding": {
        "x": {"datum": 50, "type": "quantitative", "scale": {"domain": [0, 100], "nice": false, "zero": false}, "axis": null},
        "y": {"datum": -8.7, "type": "quantitative", "scale": {"domain": [0, 100], "nice": false, "zero": false, "reverse": true}, "axis": null},
        "text": {"field": "nm"},
        "color": {"field": "g", "type": "nominal", "scale": {"domain": ["b", "o", "p", "s", "l"], "range": ["#56B4E9", "#E69F00", "#F2B8CC", "#F6AF86", "#B9B3DA"]}, "legend": null}
      }
    },
    {
      "transform": [{"filter": "isValid(datum.lt)"}],
      "mark": {"type": "text", "fontSize": 17, "font": "DejaVu Sans", "baseline": "middle", "align": "center", "color": "black"},
      "encoding": {
        "x": {"datum": 92.2, "type": "quantitative", "scale": {"domain": [0, 100], "nice": false, "zero": false}, "axis": null},
        "y": {"datum": 9, "type": "quantitative", "scale": {"domain": [0, 100], "nice": false, "zero": false, "reverse": true}, "axis": null},
        "text": {"field": "lt"}
      }
    }
  ]
},
"config": {"view": {"stroke": "black", "strokeWidth": 1.5}, "font": "DejaVu Sans"}
}
